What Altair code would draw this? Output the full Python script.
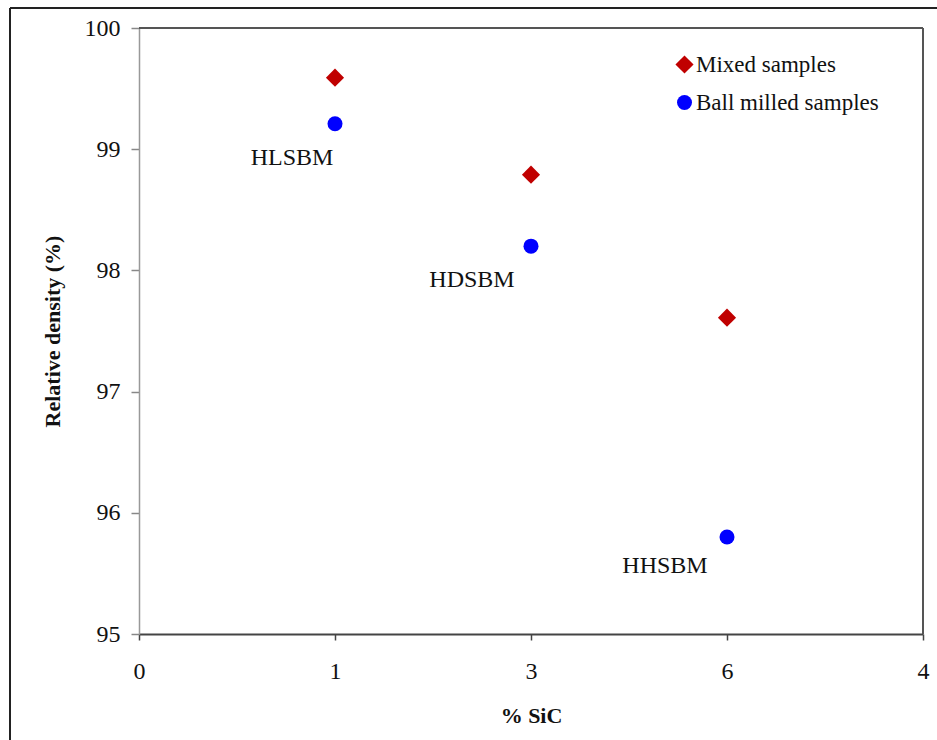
import altair as alt
import pandas as pd

# Tick labels of the x axis, one per evenly spaced slot
tick_labels = ["0", "1", "3", "6", "4"]

# SiC content (%) of the three compositions
sic_pct = [1, 3, 6]

# Relative density (%) per series
mixed_density = [99.59, 98.79, 97.61]
ball_milled_density = [99.21, 98.20, 95.80]

# Names of the ball-milled samples
sample_names = ["HLSBM", "HDSBM", "HHSBM"]

series_names = ["Mixed samples", "Ball milled samples"]

slot = [tick_labels.index(str(v)) for v in sic_pct]

points = pd.DataFrame({
    "slot": slot * 2,
    "density": mixed_density + ball_milled_density,
    "series": [series_names[0]] * 3 + [series_names[1]] * 3,
})
names = pd.DataFrame({"slot": slot, "density": ball_milled_density, "name": sample_names})

SERIF = "Liberation Serif"
W, H = 784, 606

label_expr = "[" + ",".join(f"'{t}'" for t in tick_labels) + "][datum.value]"

x_enc = alt.X("slot:Q",
              scale=alt.Scale(domain=[0, 4], nice=False, zero=False),
              axis=alt.Axis(values=[0, 1, 2, 3, 4], labelExpr=label_expr, title="% SiC",
                            grid=False, tickSize=6, tickColor="#444", domainColor="#444",
                            domainWidth=2, tickWidth=1.5, labelPadding=19, titlePadding=22,
                            labelFlush=False,
                            labelFont=SERIF, titleFont=SERIF, labelFontSize=24,
                            titleFontSize=22, titleFontWeight="bold",
                            labelColor="#111", titleColor="#111"))
y_enc = alt.Y("density:Q",
              scale=alt.Scale(domain=[95, 100], nice=False, zero=False),
              axis=alt.Axis(values=[95, 96, 97, 98, 99, 100], format="d",
                            title="Relative density (%)",
                            grid=False, tickSize=8, tickColor="#888", domainColor="#999",
                            domainWidth=1.5, tickWidth=1.5, labelPadding=11, titlePadding=20,
                            labelFlush=False,
                            labelFont=SERIF, titleFont=SERIF, labelFontSize=24,
                            titleFontSize=22, titleFontWeight="bold",
                            labelColor="#111", titleColor="#111"))

legend_props = dict(title=None, orient="none", legendX=534, legendY=25,
                    labelFont=SERIF, labelFontSize=23, labelColor="#111", labelLimit=0,
                    symbolSize=170, rowPadding=14, labelOffset=0, symbolStrokeWidth=0)

scatter = alt.Chart(points).mark_point(filled=True, opacity=1).encode(
    x=x_enc,
    y=y_enc,
    color=alt.Color("series:N",
                    scale=alt.Scale(domain=series_names, range=["#C00000", "#0000FF"]),
                    legend=alt.Legend(**legend_props)),
    shape=alt.Shape("series:N",
                    scale=alt.Scale(domain=series_names, range=["diamond", "circle"]),
                    legend=alt.Legend(**legend_props)),
    size=alt.Size("series:N",
                  scale=alt.Scale(domain=series_names, range=[330, 225]),
                  legend=None),
)

# Sample names under the ball-milled points
offsets = {"HLSBM": (-43, 41), "HDSBM": (-59, 41), "HHSBM": (-62, 36)}
name_layers = []
for nm, (dx, dy) in offsets.items():
    name_layers.append(
        alt.Chart(names).transform_filter(alt.datum.name == nm)
        .mark_text(font=SERIF, fontSize=24, color="#111", align="center",
                   baseline="alphabetic", dx=dx, dy=dy)
        .encode(x="slot:Q", y="density:Q", text="name:N")
    )

one = pd.DataFrame({"k": [0]})

# Top and right edges of the plot frame
frame_top = alt.Chart(one).mark_rule(color="#555", strokeWidth=2).encode(
    y=alt.datum(100), x=alt.value(0), x2=alt.value(W))
frame_right = alt.Chart(one).mark_rule(color="#555", strokeWidth=2).encode(
    x=alt.datum(4), y=alt.value(0), y2=alt.value(H))

# Outer border around the figure
border_top = alt.Chart(one).mark_rule(color="#222", strokeWidth=2).encode(
    x=alt.value(-129), x2=alt.value(W + 20), y=alt.value(-20))
border_left = alt.Chart(one).mark_rule(color="#222", strokeWidth=2).encode(
    x=alt.value(-129), y=alt.value(-20), y2=alt.value(H + 120))

chart = alt.layer(
    frame_top, frame_right, border_top, border_left, scatter, *name_layers
).properties(
    width=W, height=H,
    autosize=alt.AutoSizeParams(type="none"),
    padding={"left": 139, "top": 28, "right": 14, "bottom": 106},
    background="white",
).configure(font=SERIF).configure_view(stroke=None)

chart.save("out.html", embed_options={"renderer": "svg", "actions": False})
